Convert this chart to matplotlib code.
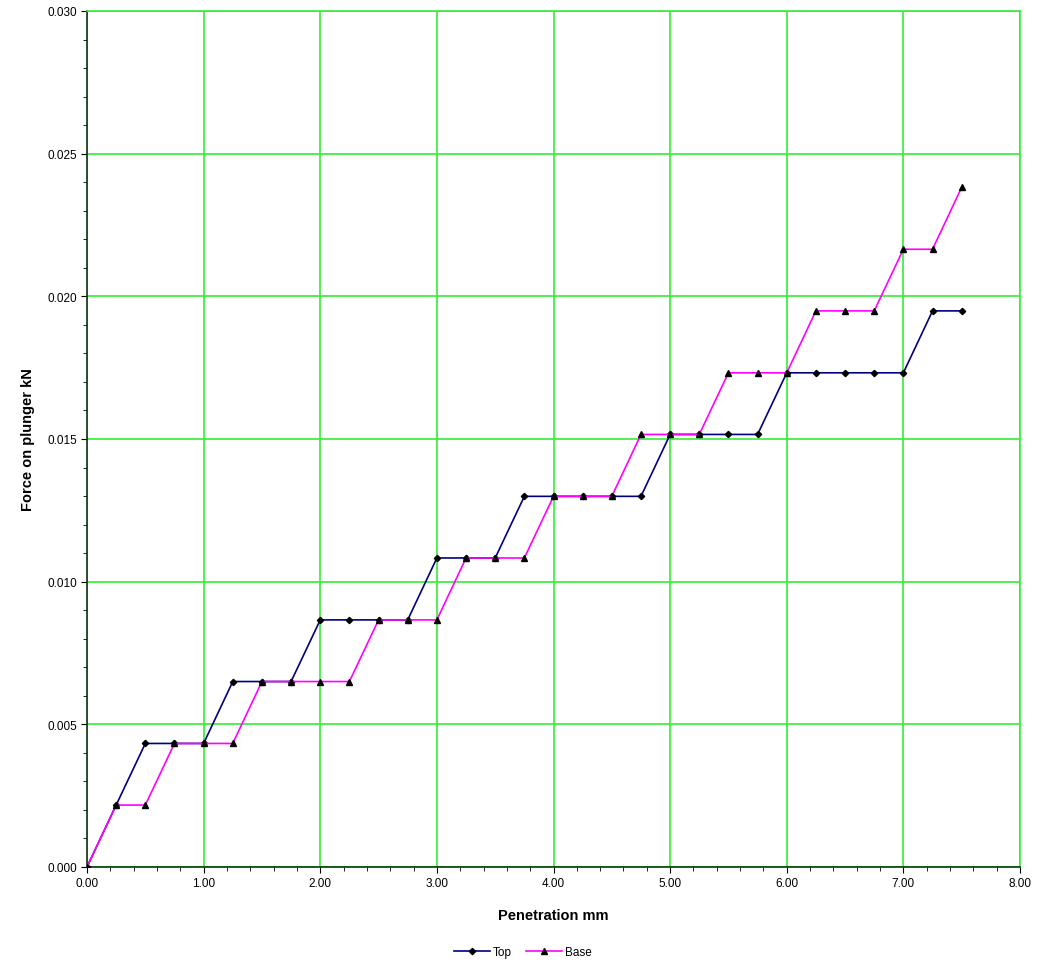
import matplotlib
matplotlib.use('Agg')
import matplotlib.pyplot as plt
from matplotlib.ticker import MultipleLocator, FormatStrFormatter

plt.rcParams['font.family'] = ['Liberation Sans', 'DejaVu Sans']

penetration = [0.00, 0.25, 0.50, 0.75, 1.00, 1.25, 1.50, 1.75, 2.00, 2.25, 2.50,
               2.75, 3.00, 3.25, 3.50, 3.75, 4.00, 4.25, 4.50, 4.75, 5.00, 5.25,
               5.50, 5.75, 6.00, 6.25, 6.50, 6.75, 7.00, 7.25, 7.50]

force_top = [0.0, 0.00217, 0.00433, 0.00433, 0.00433, 0.00650, 0.00650, 0.00650,
             0.00866, 0.00866, 0.00866, 0.00866, 0.01083, 0.01083, 0.01083,
             0.01299, 0.01299, 0.01299, 0.01299, 0.01299, 0.01516, 0.01516,
             0.01516, 0.01516, 0.01732, 0.01732, 0.01732, 0.01732, 0.01732,
             0.01949, 0.01949]

force_base = [0.0, 0.00217, 0.00217, 0.00433, 0.00433, 0.00433, 0.00650, 0.00650,
              0.00650, 0.00650, 0.00866, 0.00866, 0.00866, 0.01083, 0.01083,
              0.01083, 0.01299, 0.01299, 0.01299, 0.01516, 0.01516, 0.01516,
              0.01732, 0.01732, 0.01732, 0.01949, 0.01949, 0.01949, 0.02165,
              0.02165, 0.02382]

fig = plt.figure(figsize=(10.46, 9.62), dpi=100)
ax = fig.add_axes([87/1046, 1-868/962, (1020-87)/1046, (868-12)/962])

ax.plot(penetration, force_top, color='#000080', lw=1.2, marker='D', ms=3.2,
        mfc='black', mec='black', label='Top', zorder=3)
ax.plot(penetration, force_base, color='#FF00FF', lw=1.2, marker='^', ms=5,
        mfc='black', mec='black', label='Base', zorder=3)

ax.set_xlim(0, 8)
ax.set_ylim(0, 0.030)
ax.xaxis.set_major_locator(MultipleLocator(1))
ax.xaxis.set_minor_locator(MultipleLocator(0.2))
ax.yaxis.set_major_locator(MultipleLocator(0.005))
ax.yaxis.set_minor_locator(MultipleLocator(0.001))
ax.xaxis.set_major_formatter(FormatStrFormatter('%.2f'))
ax.yaxis.set_major_formatter(FormatStrFormatter('%.3f'))
ax.grid(True, which='major', color='#33EE33', lw=1.2)
ax.set_axisbelow(True)

# outer frame: green on top/right like the grid, dark on the axes
for s in ['top', 'right']:
    ax.spines[s].set_color('#33EE33')
    ax.spines[s].set_linewidth(1.2)
for s in ['left', 'bottom']:
    ax.spines[s].set_color('#0A3A0A')
    ax.spines[s].set_linewidth(1.2)

ax.tick_params(which='major', direction='out', length=4, labelsize=8.5,
               color='black', pad=3)
ax.tick_params(which='minor', direction='out', length=3, color='black')

ax.set_xlabel('Penetration mm', fontsize=10.5, fontweight='bold', labelpad=14)
ax.set_ylabel('Force on plunger kN', fontsize=10.5, fontweight='bold', labelpad=9)

fig.legend(loc='center', bbox_to_anchor=(0.5, 1-953/962), ncol=2, frameon=False,
           fontsize=8.5, handlelength=3, columnspacing=1.2, handletextpad=0.3)

fig.savefig('out.png', dpi=100)
